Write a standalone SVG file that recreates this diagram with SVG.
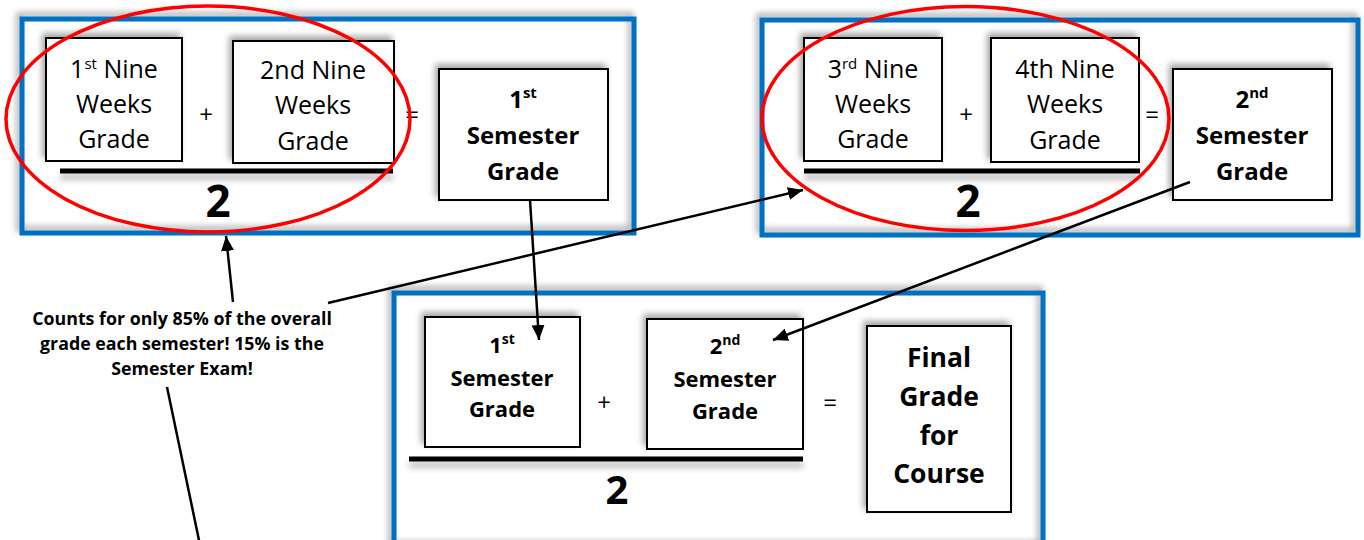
<svg xmlns="http://www.w3.org/2000/svg" width="1364" height="540" viewBox="0 0 1364 540">
<defs>
<style>
.frame{fill:none;stroke:#0070C0;stroke-width:5;filter:url(#shUL)}
.box{fill:#fff;stroke:#000;stroke-width:2;filter:url(#shUL)}
.oval{fill:none;stroke:#FF0000;stroke-width:3.5}
.bar{fill:#000;filter:url(#shD)}
.t{font-family:"Open Sans","Liberation Sans",sans-serif;font-size:25px;fill:#000;text-anchor:middle}
.b{font-weight:bold;font-size:24px}
.b2{font-weight:bold;font-size:22px}
.fin{font-weight:bold;font-size:26.5px}
.op{font-size:24px}
.den{font-weight:bold;font-size:44px}
.den2{font-weight:bold;font-size:40px}
.note{font-weight:bold;font-size:17.8px}
.conn{stroke:#000;stroke-width:2.5;fill:none}
.arr{marker-end:url(#ah)}
</style>
<filter id="shUL" x="-10%" y="-10%" width="120%" height="120%">
<feDropShadow dx="-3" dy="-4" stdDeviation="3" flood-color="#000" flood-opacity="0.35"/>
</filter>
<filter id="shD" x="-5%" y="-100%" width="110%" height="500%">
<feDropShadow dx="0" dy="6" stdDeviation="3" flood-color="#000" flood-opacity="0.3"/>
</filter>
<marker id="ah" markerUnits="userSpaceOnUse" markerWidth="16" markerHeight="13" refX="15" refY="6.5" orient="auto">
<path d="M0,0 L15,6.5 L0,13 z" fill="#000"/>
</marker>
</defs>
<rect width="1364" height="540" fill="#fff"/>

<g id="semester1">
<rect class="frame" x="22" y="19" width="612" height="214"/>
<g id="nine1">
<rect class="box" x="46" y="38" width="136" height="123"/>
<text class="t" x="114" y="78">1<tspan font-size="15" dy="-9">st</tspan><tspan dy="9"> Nine</tspan></text>
<text class="t" x="114" y="113">Weeks</text>
<text class="t" x="114" y="148">Grade</text>
</g>
<text class="t op" x="206" y="123">+</text>
<g id="nine2">
<rect class="box" x="233" y="41" width="161" height="122"/>
<text class="t" x="313" y="79">2nd Nine</text>
<text class="t" x="313" y="114">Weeks</text>
<text class="t" x="313" y="150">Grade</text>
</g>
<text class="t op" x="412" y="123">=</text>
<rect class="bar" x="60" y="168.5" width="333" height="5"/>
<text class="t den" x="218" y="217">2</text>
<g id="sem1result">
<rect class="box" x="439" y="69" width="169" height="131"/>
<text class="t b" x="523" y="108">1<tspan font-size="15" dy="-10">st</tspan></text>
<text class="t b" x="523" y="144">Semester</text>
<text class="t b" x="523" y="180">Grade</text>
</g>
<ellipse class="oval" cx="208" cy="119" rx="202" ry="113"/>
</g>

<g id="semester2">
<rect class="frame" x="762" y="20" width="596" height="215"/>
<g id="nine3">
<rect class="box" x="804" y="38" width="138" height="123"/>
<text class="t" x="873" y="78">3<tspan font-size="15" dy="-9">rd</tspan><tspan dy="9"> Nine</tspan></text>
<text class="t" x="873" y="113">Weeks</text>
<text class="t" x="873" y="148">Grade</text>
</g>
<text class="t op" x="966" y="123">+</text>
<g id="nine4">
<rect class="box" x="991" y="38" width="148" height="124"/>
<text class="t" x="1065" y="78">4th Nine</text>
<text class="t" x="1065" y="113">Weeks</text>
<text class="t" x="1065" y="149">Grade</text>
</g>
<text class="t op" x="1152" y="123">=</text>
<rect class="bar" x="804" y="168.5" width="336" height="5"/>
<text class="t den" x="968" y="217">2</text>
<g id="sem2result">
<rect class="box" x="1173" y="69" width="159" height="131"/>
<text class="t b" x="1252" y="108">2<tspan font-size="15" dy="-10">nd</tspan></text>
<text class="t b" x="1252" y="144">Semester</text>
<text class="t b" x="1252" y="180">Grade</text>
</g>
<ellipse class="oval" cx="965.5" cy="118.5" rx="203.5" ry="112"/>
</g>

<g id="final">
<rect class="frame" x="394" y="293" width="649" height="255"/>
<g id="sem1">
<rect class="box" x="425" y="317" width="155" height="130"/>
<text class="t b2" x="502" y="353">1<tspan font-size="14" dy="-9">st</tspan></text>
<text class="t b2" x="502" y="386">Semester</text>
<text class="t b2" x="502" y="417">Grade</text>
</g>
<text class="t op" x="604" y="411">+</text>
<g id="sem2">
<rect class="box" x="647" y="319" width="156" height="130"/>
<text class="t b2" x="725" y="354">2<tspan font-size="14" dy="-9">nd</tspan></text>
<text class="t b2" x="725" y="387">Semester</text>
<text class="t b2" x="725" y="419">Grade</text>
</g>
<text class="t op" x="830" y="411">=</text>
<rect class="bar" x="409" y="456.5" width="394" height="5"/>
<text class="t den2" x="617" y="504">2</text>
<g id="finalgrade">
<rect class="box" x="867" y="326" width="144" height="186"/>
<text class="t fin" x="939" y="367">Final</text>
<text class="t fin" x="939" y="406">Grade</text>
<text class="t fin" x="939" y="445">for</text>
<text class="t fin" x="939" y="483">Course</text>
</g>
</g>

<g id="note">
<text class="t note" x="182" y="325">Counts for only 85% of the overall</text>
<text class="t note" x="182" y="350">grade each semester! 15% is the</text>
<text class="t note" x="182" y="375">Semester Exam!</text>
</g>

<g id="connectors">
<line class="conn arr" x1="233" y1="302" x2="226" y2="236"/>
<line class="conn arr" x1="328" y1="303" x2="803" y2="190"/>
<line class="conn" x1="167" y1="387" x2="200" y2="545"/>
<line class="conn arr" x1="530" y1="200" x2="539" y2="340"/>
<line class="conn arr" x1="1190" y1="182" x2="773" y2="340"/>
</g>
</svg>
